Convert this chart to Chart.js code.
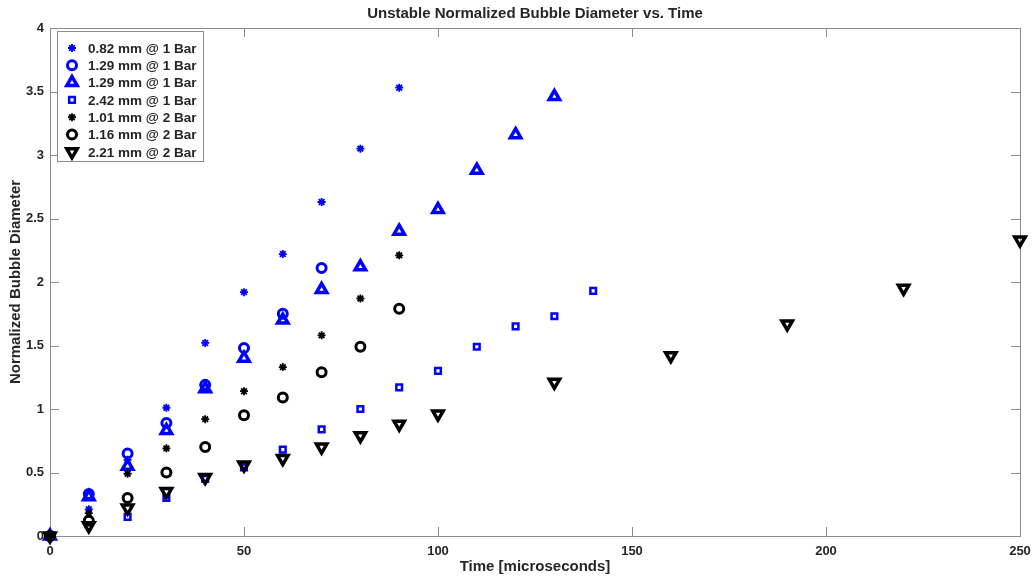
<!DOCTYPE html>
<html>
<head>
<meta charset="utf-8">
<title>Unstable Normalized Bubble Diameter vs. Time</title>
<script src="https://cdn.jsdelivr.net/npm/chart.js@4/dist/chart.umd.min.js"></script>
<style>
  html, body { margin: 0; padding: 0; background: #fff; }
  #wrap { width: 1033px; height: 580px; }
</style>
</head>
<body>
<div id="wrap"><canvas id="bubbleChart"></canvas></div>
<script>
// --- Data ---
const seriesLabels = [
  "0.82 mm @ 1 Bar",
  "1.29 mm @ 1 Bar",
  "1.29 mm @ 1 Bar",
  "2.42 mm @ 1 Bar",
  "1.01 mm @ 2 Bar",
  "1.16 mm @ 2 Bar",
  "2.21 mm @ 2 Bar",
];

const timeA = [0, 10, 20, 30, 40, 50, 60, 70, 80, 90];
const diamA = [0, 0.21, 0.6, 1.01, 1.52, 1.92, 2.22, 2.63, 3.05, 3.53];

const timeB = [0, 10, 20, 30, 40, 50, 60, 70];
const diamB = [0, 0.33, 0.65, 0.89, 1.19, 1.48, 1.75, 2.11];

const timeC = [0, 10, 20, 30, 40, 50, 60, 70, 80, 90, 100, 110, 120, 130];
const diamC = [0, 0.31, 0.55, 0.83, 1.16, 1.4, 1.7, 1.94, 2.12, 2.4, 2.57, 2.88, 3.16, 3.46];

const timeD = [0, 20, 30, 40, 50, 60, 70, 80, 90, 100, 110, 120, 130, 140];
const diamD = [0, 0.15, 0.3, 0.45, 0.54, 0.68, 0.84, 1.0, 1.17, 1.3, 1.49, 1.65, 1.73, 1.93];

const timeE = [0, 10, 20, 30, 40, 50, 60, 70, 80, 90];
const diamE = [0, 0.18, 0.49, 0.69, 0.92, 1.14, 1.33, 1.58, 1.87, 2.21];

const timeF = [0, 10, 20, 30, 40, 50, 60, 70, 80, 90];
const diamF = [0, 0.12, 0.3, 0.5, 0.7, 0.95, 1.09, 1.29, 1.49, 1.79];

const timeG = [0, 10, 20, 30, 40, 50, 60, 70, 80, 90, 100, 130, 160, 190, 220, 250];
const diamG = [0, 0.08, 0.22, 0.35, 0.46, 0.56, 0.61, 0.7, 0.79, 0.88, 0.96, 1.21, 1.42, 1.67, 1.95, 2.33];

const xTicksMax = 250;
const yTicksMax = 4;

// --- Styles ---
const BLUE = "#0000ff";
const BLACK = "#000000";
const TEXT = "#262626";
const AXIS = "#8c8c8c";
const FONT = "'Liberation Sans', Arial, sans-serif";

const toPoints = (xs, ys) => xs.map((x, i) => ({ x: x, y: ys[i] }));

const markerStyles = [
  { color: BLUE, pointStyle: "star", radius: 4, width: 1.8, rotation: 0 },
  { color: BLUE, pointStyle: "circle", radius: 4.5, width: 3, rotation: 0 },
  { color: BLUE, pointStyle: "triangle", radius: 6, width: 3.5, rotation: 0 },
  { color: BLUE, pointStyle: "rect", radius: 4, width: 2.5, rotation: 0 },
  { color: BLACK, pointStyle: "star", radius: 4, width: 1.8, rotation: 0 },
  { color: BLACK, pointStyle: "circle", radius: 4.5, width: 3, rotation: 0 },
  { color: BLACK, pointStyle: "triangle", radius: 6, width: 3.5, rotation: 180 },
];

const seriesData = [
  toPoints(timeA, diamA),
  toPoints(timeB, diamB),
  toPoints(timeC, diamC),
  toPoints(timeD, diamD),
  toPoints(timeE, diamE),
  toPoints(timeF, diamF),
  toPoints(timeG, diamG),
];

const datasets = seriesData.map((pts, i) => {
  const m = markerStyles[i];
  return {
    label: seriesLabels[i],
    data: pts,
    showLine: false,
    borderColor: m.color,
    backgroundColor: "rgba(0,0,0,0)",
    pointStyle: m.pointStyle,
    pointRadius: m.radius,
    pointBorderWidth: m.width,
    pointRotation: m.rotation,
    pointBorderColor: m.color,
    pointBackgroundColor: "rgba(0,0,0,0)",
    clip: false,
    order: seriesData.length - i, // later series on top, like MATLAB
  };
});

// --- Plugin: axes box with inward ticks (MATLAB look) ---
const frameBox = {
  id: "frameBox",
  beforeDatasetsDraw(chart) {
    const { ctx, chartArea: a, scales } = chart;
    ctx.save();
    ctx.strokeStyle = AXIS;
    ctx.lineWidth = 1;
    ctx.strokeRect(Math.round(a.left) + 0.5, Math.round(a.top) + 0.5,
      Math.round(a.right - a.left), Math.round(a.bottom - a.top));
    ctx.beginPath();
    scales.x.ticks.forEach((t) => {
      const px = Math.round(scales.x.getPixelForValue(t.value)) + 0.5;
      ctx.moveTo(px, a.bottom); ctx.lineTo(px, a.bottom - 9);
      ctx.moveTo(px, a.top); ctx.lineTo(px, a.top + 9);
    });
    scales.y.ticks.forEach((t) => {
      const py = Math.round(scales.y.getPixelForValue(t.value)) + 0.5;
      ctx.moveTo(a.left, py); ctx.lineTo(a.left + 9, py);
      ctx.moveTo(a.right, py); ctx.lineTo(a.right - 9, py);
    });
    ctx.stroke();
    ctx.restore();
  },
};

// --- Plugin: title centred over the axes ---
const axesTitle = {
  id: "axesTitle",
  afterDraw(chart) {
    const { ctx, chartArea: a } = chart;
    ctx.save();
    ctx.fillStyle = TEXT;
    ctx.font = "bold 15px " + FONT;
    ctx.textAlign = "center";
    ctx.textBaseline = "middle";
    ctx.fillText("Unstable Normalized Bubble Diameter vs. Time", (a.left + a.right) / 2, 14);
    ctx.restore();
  },
};

// --- Plugin: boxed legend in the upper left of the axes ---
const legendBox = {
  id: "legendBox",
  afterDatasetsDraw(chart) {
    const { ctx, chartArea: a } = chart;
    const x0 = Math.round(a.left) + 7;
    const y0 = Math.round(a.top) + 3;
    ctx.save();
    ctx.fillStyle = "#fff";
    ctx.fillRect(x0, y0, 146, 130);
    ctx.strokeStyle = AXIS;
    ctx.lineWidth = 1;
    ctx.strokeRect(x0 + 0.5, y0 + 0.5, 146, 130);
    chart.data.datasets.forEach((ds, i) => {
      const cy = y0 + 17 + i * 17.3;
      ctx.strokeStyle = ds.pointBorderColor;
      ctx.fillStyle = "rgba(0,0,0,0)";
      ctx.lineWidth = ds.pointBorderWidth;
      Chart.helpers.drawPoint(ctx, {
        pointStyle: ds.pointStyle,
        radius: ds.pointRadius,
        rotation: ds.pointRotation,
        borderWidth: ds.pointBorderWidth,
      }, x0 + 15, cy);
      ctx.fillStyle = TEXT;
      ctx.font = "bold 13.5px " + FONT;
      ctx.textAlign = "left";
      ctx.textBaseline = "middle";
      ctx.fillText(ds.label, x0 + 31, cy + 1);
    });
    ctx.restore();
  },
};

// --- Chart ---
const ctx = document.getElementById("bubbleChart").getContext("2d");
new Chart(ctx, {
  type: "scatter",
  data: { datasets: datasets },
  plugins: [frameBox, legendBox, axesTitle],
  options: {
    responsive: true,
    maintainAspectRatio: false,
    animation: false,
    events: [],
    layout: { padding: { top: 28, right: 13, left: 0, bottom: 0 } },
    plugins: {
      legend: { display: false },
      title: { display: false },
      tooltip: { enabled: false },
    },
    scales: {
      x: {
        type: "linear",
        min: 0,
        max: xTicksMax,
        afterFit: (scale) => {
          scale.height = 44;
          scale.paddingLeft = 0;
          scale.paddingRight = 0;
        },
        grid: { display: false, drawTicks: false },
        border: { display: false },
        ticks: {
          stepSize: 50,
          padding: 8,
          color: TEXT,
          font: { family: FONT, size: 13, weight: "bold" },
          maxRotation: 0,
        },
        title: {
          display: true,
          text: "Time [microseconds]",
          color: TEXT,
          font: { family: FONT, size: 15, weight: "bold" },
          padding: { top: 0, bottom: 4 },
        },
      },
      y: {
        type: "linear",
        min: 0,
        max: yTicksMax,
        afterFit: (scale) => {
          scale.width = 50;
          scale.paddingTop = 0;
          scale.paddingBottom = 0;
        },
        grid: { display: false, drawTicks: false },
        border: { display: false },
        ticks: {
          stepSize: 0.5,
          padding: 6,
          color: TEXT,
          font: { family: FONT, size: 13, weight: "bold" },
          callback: (value) => `${value}`,
        },
        title: {
          display: true,
          text: "Normalized Bubble Diameter",
          color: TEXT,
          font: { family: FONT, size: 15, weight: "bold" },
          padding: { top: 7, bottom: 4 },
        },
      },
    },
  },
});
</script>
</body>
</html>
